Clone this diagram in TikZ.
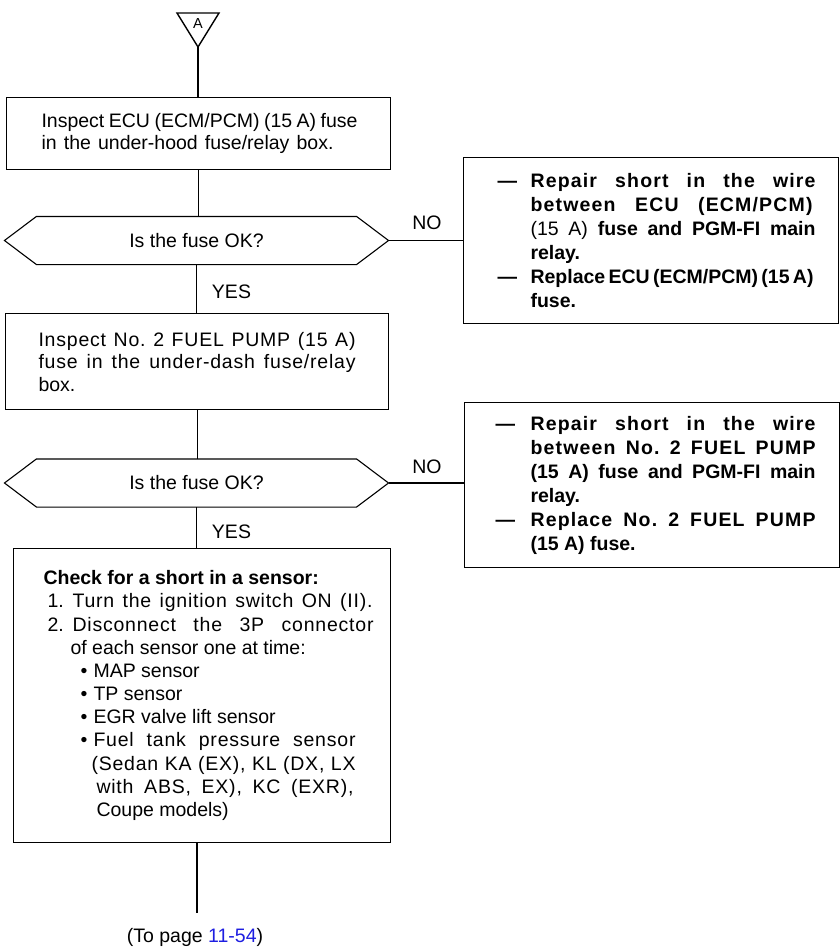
\documentclass[tikz,border=0pt]{standalone}
\usepackage{fontspec}
\setmainfont{Liberation Sans}
\usetikzlibrary{calc}
\definecolor{linkblue}{RGB}{30,30,225}
\newcommand{\jl}[2]{\makebox[#1][s]{\spaceskip=\fontdimen2\font plus 1fil minus 0.12em\xspaceskip=\spaceskip #2}}
\newcommand{\jls}[2]{\makebox[#1][s]{\spaceskip=\fontdimen2\font plus 1fil minus 0.12em\xspaceskip=\spaceskip\addfontfeatures{LetterSpace=4}#2}}
\newcommand{\natsp}{\spaceskip=0pt\xspaceskip=0pt\relax}
\newcommand{\ls}{\addfontfeatures{LetterSpace=6}}
\begin{document}
\begin{tikzpicture}[x=1pt,y=-1pt,line width=1.1pt,
  every node/.style={inner sep=0pt,font=\fontsize{19.5}{22.5}\selectfont},
  procbox/.style={draw,anchor=north west,align=left,inner sep=0pt},
  decbox/.style={minimum width=383pt,minimum height=47pt},
  fixbox/.style={draw,anchor=north west,align=left,inner xsep=0pt,
     text width=375pt,font=\fontsize{19.5}{24}\selectfont\bfseries},
  lbl/.style={}]
\useasboundingbox (0,0) rectangle (839,948);

% start triangle
\coordinate (apex) at (198,47);
\draw[line width=1.4pt] (177,13) -- (219,13) -- (apex) -- cycle;
\node[font=\fontsize{14.5}{14.5}\selectfont] (tA) at (198,24) {A};

% boxes
\node[procbox,minimum width=384pt,minimum height=72pt,text width=384pt]
  (b1) at (6,97) {\natsp
\hspace*{35pt}\jl{316pt}{Inspect ECU (ECM/PCM) (15 A) fuse}\\
\hspace*{35pt}\jl{292pt}{in the under-hood fuse/relay box.}};

\node[decbox] (d1) at (196.5,240.5) {Is the fuse OK?};

\node[procbox,minimum width=383pt,minimum height=96pt,text width=383pt]
  (b2) at (5,313) {\natsp
\hspace*{33pt}\jls{317pt}{Inspect No. 2 FUEL PUMP (15 A)}\\
\hspace*{33pt}\jls{317pt}{fuse in the under-dash fuse/relay}\\
\hspace*{33pt}box.};

\node[decbox] (d2) at (196.5,483) {Is the fuse OK?};

\node[procbox,minimum width=377pt,minimum height=294pt,text width=377pt,
  font=\fontsize{19.5}{23.2}\selectfont]
  (b3) at (13,548) {\natsp
\hspace*{30pt}\textbf{Check for a short in a sensor:}\\
\hspace*{34pt}\makebox[25pt][l]{1.}\jls{300pt}{Turn the ignition switch ON (II).}\\
\hspace*{34pt}\makebox[25pt][l]{2.}\jls{301pt}{Disconnect the 3P connector}\\
\hspace*{57pt}of each sensor one at time:\\
\hspace*{67pt}\makebox[13pt][l]{•}MAP sensor\\
\hspace*{67pt}\makebox[13pt][l]{•}TP sensor\\
\hspace*{67pt}\makebox[13pt][l]{•}EGR valve lift sensor\\
\hspace*{67pt}\makebox[13pt][l]{•}\jls{262pt}{Fuel tank pressure sensor}\\
\hspace*{78pt}\jls{264pt}{(Sedan KA (EX), KL (DX, LX}\\
\hspace*{83pt}\jls{257pt}{with ABS, EX), KC (EXR),}\\
\hspace*{83pt}Coupe models)};

% right-hand repair boxes
\node[fixbox,minimum height=166pt] (r1) at (463,157) {\natsp
\hspace*{34pt}\makebox[33pt][l]{—}\jl{285pt}{\ls Repair short in the wire}\\
\hspace*{67pt}\jl{282pt}{\ls between ECU (ECM/PCM)}\\
\hspace*{67pt}\jl{285pt}{\mdseries(15 A) \bfseries fuse and PGM-FI main}\\
\hspace*{67pt}relay.\\
\hspace*{34pt}\makebox[33pt][l]{—}\jl{283pt}{Replace ECU (ECM/PCM) (15 A)}\\
\hspace*{67pt}fuse.};

\node[fixbox,minimum height=165pt] (r2) at (464,402) {\natsp
\hspace*{31pt}\makebox[35pt][l]{—}\jl{285pt}{\ls Repair short in the wire}\\
\hspace*{66pt}\jl{285pt}{\ls between No. 2 FUEL PUMP}\\
\hspace*{66pt}\jl{285pt}{(15 A) fuse and PGM-FI main}\\
\hspace*{66pt}relay.\\
\hspace*{31pt}\makebox[35pt][l]{—}\jl{285pt}{\ls Replace No. 2 FUEL PUMP}\\
\hspace*{66pt}(15 A) fuse.};

% decision outlines
\foreach \d in {d1,d2}{
  \draw (\d.west) -- ([xshift=32pt]\d.north west) -- ([xshift=-32pt]\d.north east)
    -- (\d.east) -- ([xshift=-32pt]\d.south east) -- ([xshift=32pt]\d.south west) -- cycle;
}

% connectors
\draw[line width=1.4pt] (apex) -- (apex |- b1.north);
\draw (b1.south) -- (b1.south |- d1.north);
\draw (d1.south) -- (d1.south |- b2.north);
\draw (b2.south) -- (b2.south |- d2.north);
\draw (d2.south) -- (d2.south |- b3.north);
\draw (d1.east) -- (d1.east -| r1.west);
\draw (d2.east) -- (d2.east -| r2.west);
\coordinate (endp) at (197,913);
\draw (endp |- b3.south) -- (endp);

% labels
\node[lbl] (y1) at (231.5,292) {YES};
\node[lbl] (y2) at (231.5,532) {YES};
\node[lbl] (n1) at (427,223) {NO};
\node[lbl] (n2) at (427,467) {NO};
\node[lbl] (tp) at (195,937) {(To page \textcolor{linkblue}{11-54})};
\end{tikzpicture}
\end{document}
